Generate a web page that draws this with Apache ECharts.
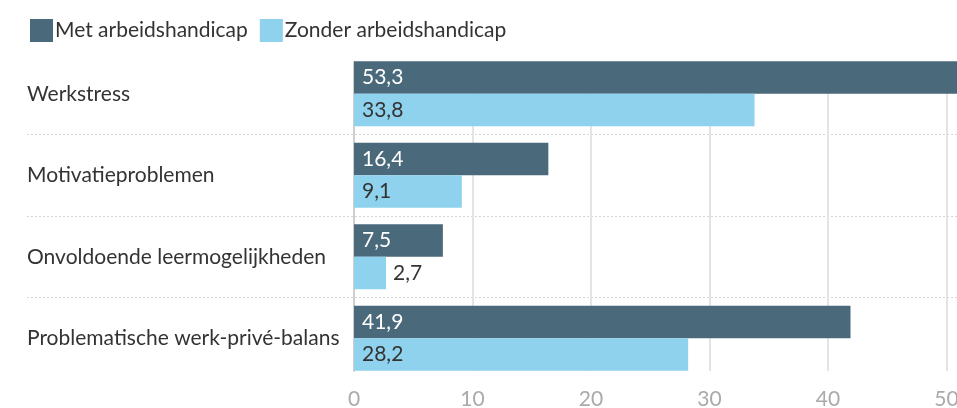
<!DOCTYPE html>
<html><head><meta charset="utf-8">
<script src="https://cdn.jsdelivr.net/npm/echarts@6/dist/echarts.min.js"></script>
<style>html,body{margin:0;padding:0;background:#fff}#c{width:957px;height:408px}</style>
</head><body><div id="c"></div>
<script>
const categories = ['Werkstress', 'Motivatieproblemen', 'Onvoldoende leermogelijkheden', 'Problematische werk-privé-balans'];
const seriesNames = ['Met arbeidshandicap', 'Zonder arbeidshandicap'];
const metValues = [53.3, 16.4, 7.5, 41.9];
const zonderValues = [33.8, 9.1, 2.7, 28.2];
const xTicks = [0, 10, 20, 30, 40, 50, 60];

const FONT = 'Lato';
const plotLeft = 354, labelLeft = 27, xMax = 60, rightOverflow = -108;
const pxPerUnit = (957 - rightOverflow - plotLeft) / xMax;
const xMinOuter = -(plotLeft - labelLeft) / pxPerUnit;
const fmt = p => String(p.value).replace('.', ',');

function items(vals, insideColor) {
  return vals.map(v => v < 5
    ? { value: v, label: { position: 'right', color: '#333', distance: 7 } }
    : { value: v, label: { color: insideColor } });
}

const chart = echarts.init(document.getElementById('c'));
chart.setOption({
  animation: false,
  textStyle: { fontFamily: FONT },
  legend: {
    left: 25, top: 14, itemWidth: 23, itemHeight: 23, itemGap: 12, icon: 'rect',
    textStyle: { fontFamily: FONT, fontSize: 21, color: '#333', padding: [0, 0, 0, -3] },
    data: seriesNames
  },
  grid: [
    { left: labelLeft, right: rightOverflow, top: 53, bottom: 29, containLabel: false, outerBoundsMode: 'none' },
    { left: plotLeft, right: rightOverflow, top: 62, bottom: 37, containLabel: false, outerBoundsMode: 'none' }
  ],
  xAxis: [
    { gridIndex: 0, type: 'value', min: xMinOuter, max: xMax, show: false },
    { gridIndex: 1, type: 'value', min: xTicks[0], max: xTicks[xTicks.length - 1], interval: 10,
      axisLine: { show: false }, axisTick: { show: false },
      axisLabel: { color: '#aaa', fontSize: 21, fontFamily: FONT, margin: 18 },
      splitLine: { show: true, lineStyle: { color: '#e4e4e4', width: 2 } } }
  ],
  yAxis: [
    { gridIndex: 0, type: 'category', data: categories, inverse: true,
      axisLine: { show: false }, axisTick: { show: false },
      axisLabel: { align: 'left', margin: 0, color: '#333', fontSize: 21, fontFamily: FONT },
      splitLine: { show: true, showMinLine: false, showMaxLine: false,
        lineStyle: { type: [2, 2], color: '#d4d4d4', width: 1 } } },
    { gridIndex: 1, type: 'category', data: categories, inverse: true,
      axisLine: { show: true, lineStyle: { color: '#cfcfcf', width: 2 } },
      axisTick: { show: false }, axisLabel: { show: false }, splitLine: { show: false } }
  ],
  series: [
    { name: seriesNames[0], type: 'bar', xAxisIndex: 0, yAxisIndex: 0,
      barWidth: 32.5, barGap: '0%', itemStyle: { color: '#4a6a7b' },
      label: { show: true, position: 'insideLeft', distance: 8, fontSize: 21, fontFamily: FONT, formatter: fmt },
      data: items(metValues, '#fff') },
    { name: seriesNames[1], type: 'bar', xAxisIndex: 0, yAxisIndex: 0,
      barWidth: 32.5, barGap: '0%', itemStyle: { color: '#8fd2ed' },
      label: { show: true, position: 'insideLeft', distance: 8, fontSize: 21, fontFamily: FONT, formatter: fmt },
      data: items(zonderValues, '#333') }
  ]
});
</script></body></html>
